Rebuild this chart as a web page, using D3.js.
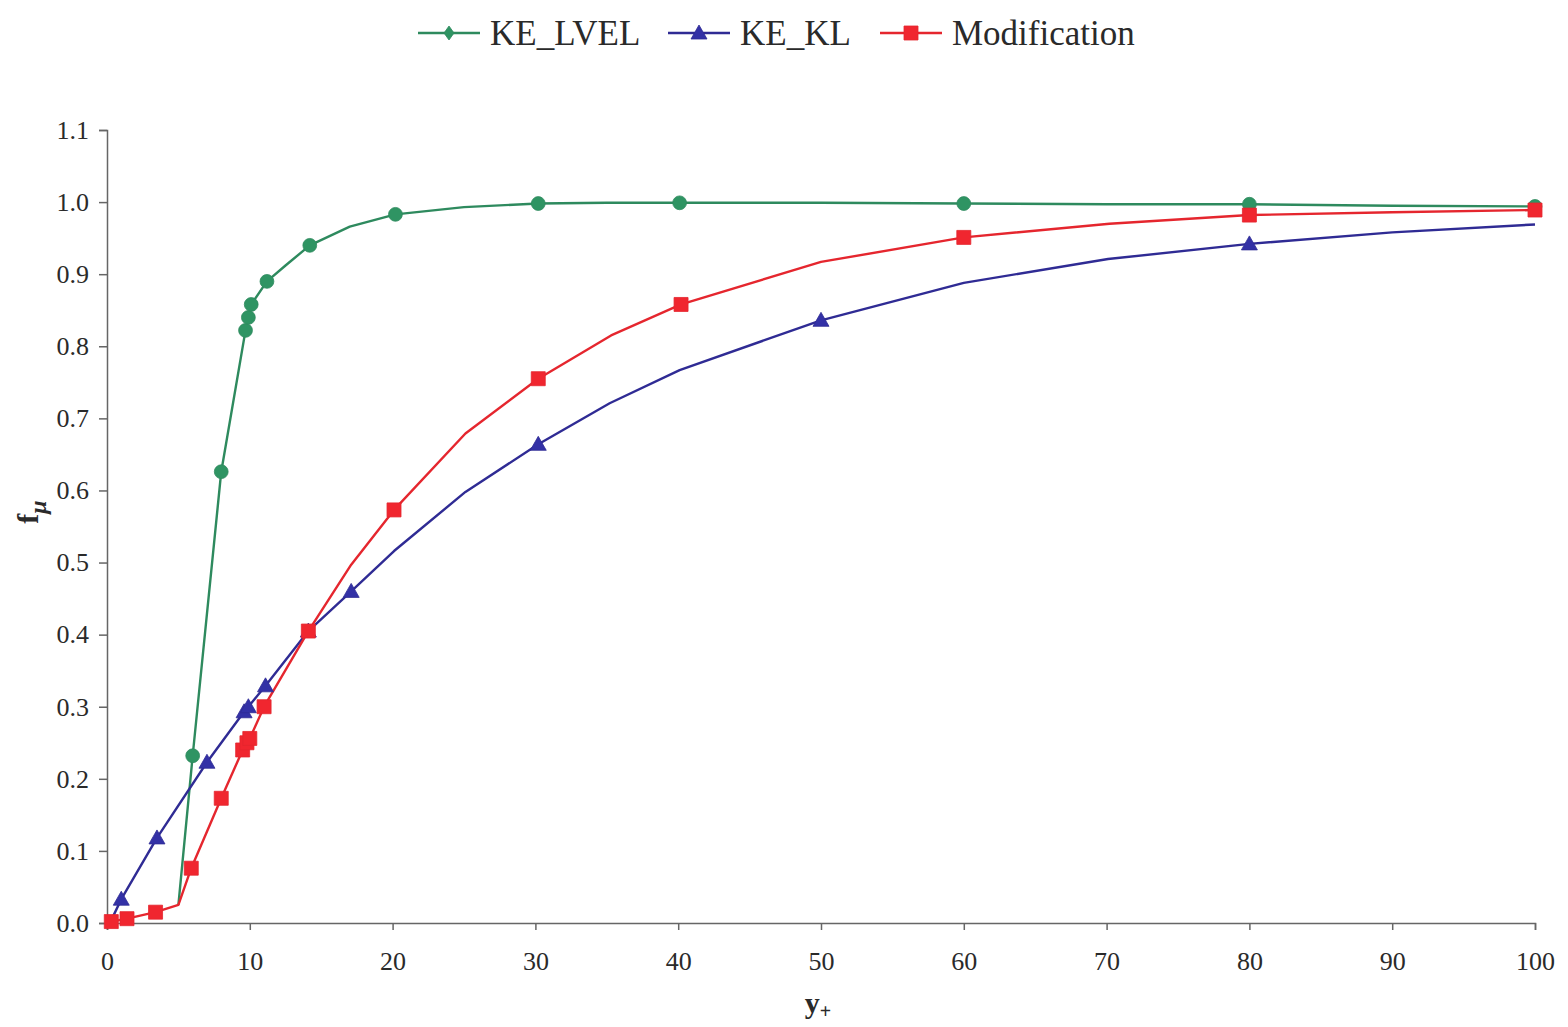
<!DOCTYPE html>
<html>
<head>
<meta charset="utf-8">
<script src="https://cdn.jsdelivr.net/npm/d3@7"></script>
<style>
  html, body { margin: 0; padding: 0; background: #fff; }
  svg { display: block; }
  text { font-family: "Liberation Serif", "Times New Roman", serif; fill: #2a2a2a; }
</style>
</head>
<body>
<svg id="chart" width="1568" height="1027"></svg>
<script>
// Axis ticks
const xTicks = [0, 10, 20, 30, 40, 50, 60, 70, 80, 90, 100];
const yTicks = [0, 0.1, 0.2, 0.3, 0.4, 0.5, 0.6, 0.7, 0.8, 0.9, 1.0, 1.1];

// Series names
const seriesNames = ["KE_LVEL", "KE_KL", "Modification"];

// Each point: [y+, f_mu, hasMarker]
const keLvel = [
  [5.0, 0.025, 0], [6.0, 0.232, 1], [8.0, 0.626, 1], [9.7, 0.822, 1],
  [9.9, 0.840, 1], [10.1, 0.858, 1], [11.2, 0.890, 1], [12.5, 0.912, 0],
  [14.2, 0.940, 1], [17.0, 0.966, 0], [20.2, 0.983, 1], [25.0, 0.993, 0],
  [30.2, 0.998, 1], [35.0, 0.999, 0], [40.1, 0.999, 1], [50.0, 0.999, 0],
  [60.0, 0.998, 1], [70.0, 0.997, 0], [80.0, 0.997, 1], [90.0, 0.995, 0],
  [100.0, 0.994, 1]
];

const keKl = [
  [0.3, 0.004, 0], [1.0, 0.033, 1], [3.5, 0.118, 1], [7.0, 0.223, 1],
  [9.6, 0.293, 1], [9.9, 0.300, 1], [11.1, 0.329, 1], [14.1, 0.405, 1],
  [17.1, 0.460, 1], [20.1, 0.516, 0], [25.1, 0.598, 0], [30.2, 0.664, 1],
  [35.2, 0.721, 0], [40.1, 0.767, 0], [50.0, 0.836, 1], [60.0, 0.888, 0],
  [70.1, 0.921, 0], [80.0, 0.942, 1], [90.0, 0.958, 0], [100.0, 0.969, 0]
];

const modification = [
  [0.3, 0.002, 1], [1.4, 0.006, 1], [3.4, 0.015, 1], [5.0, 0.025, 0],
  [5.9, 0.076, 1], [8.0, 0.173, 1], [9.5, 0.240, 1], [9.8, 0.250, 1],
  [10.0, 0.256, 1], [11.0, 0.300, 1], [14.1, 0.405, 1], [17.1, 0.497, 0],
  [20.1, 0.573, 1], [25.1, 0.679, 0], [30.2, 0.755, 1], [35.3, 0.815, 0],
  [40.2, 0.858, 1], [50.0, 0.917, 0], [60.0, 0.951, 1], [70.2, 0.970, 0],
  [80.0, 0.982, 1], [90.0, 0.986, 0], [100.0, 0.989, 1]
];

const svg = d3.select("#chart");

const x = d3.scaleLinear().domain([0, 100]).range([107, 1535]);
const y = d3.scaleLinear().domain([0, 1.1]).range([923, 130]);

const axisColor = "#666";

// Y axis
const yAxis = svg.append("g")
  .attr("transform", `translate(${x(0)},0)`)
  .attr("font-family", "Liberation Serif, serif")
  .call(d3.axisLeft(y).tickValues(yTicks).tickFormat(d3.format(".1f")).tickSizeOuter(0).tickSize(8).tickPadding(10));
yAxis.select(".domain").attr("stroke", axisColor).attr("stroke-width", 1.5);
yAxis.selectAll(".tick line").attr("stroke", axisColor).attr("stroke-width", 1.5);
yAxis.selectAll(".tick text").attr("font-size", 26).attr("fill", "#2a2a2a")
  .attr("font-family", "Liberation Serif, serif");

// X axis
const xAxis = svg.append("g")
  .attr("transform", `translate(0,${y(0)})`)
  .attr("font-family", "Liberation Serif, serif")
  .call(d3.axisBottom(x).tickValues(xTicks).tickFormat(d3.format("d")).tickSizeOuter(0).tickSize(7).tickPadding(22));
xAxis.select(".domain").attr("stroke", axisColor).attr("stroke-width", 1.5);
xAxis.selectAll(".tick line").attr("stroke", axisColor).attr("stroke-width", 1.5);
xAxis.selectAll(".tick text").attr("font-size", 26).attr("fill", "#2a2a2a")
  .attr("font-family", "Liberation Serif, serif");

// Series styling
const series = [
  { name: seriesNames[0], data: keLvel, line: "#2e8a5e", fill: "#2f9463", marker: "circle" },
  { name: seriesNames[1], data: keKl, line: "#2f2b94", fill: "#3331a6", marker: "triangle" },
  { name: seriesNames[2], data: modification, line: "#e5262e", fill: "#f0262f", marker: "square" }
];

const line = d3.line().x(d => x(d[0])).y(d => y(d[1])).curve(d3.curveLinear);

function markerPath(kind) {
  if (kind === "circle") {
    return d3.symbol().type(d3.symbolCircle).size(150)();
  } else if (kind === "triangle") {
    return "M0,-8L8,6L-8,6Z";
  } else if (kind === "square") {
    return "M-7,-7H7V7H-7Z";
  }
  return "M-5,0L0,-7L5,0L0,7Z";
}

series.forEach(s => {
  svg.append("g").attr("class", "series")
    .append("path")
    .datum(s.data)
    .attr("fill", "none")
    .attr("stroke", s.line)
    .attr("stroke-width", 2.4)
    .attr("stroke-linejoin", "round")
    .attr("d", line);
});

series.forEach(s => {
  svg.append("g").attr("class", "markers")
    .selectAll("path")
    .data(s.data.filter(d => d[2] === 1))
    .join("path")
    .attr("transform", d => `translate(${x(d[0])},${y(d[1])})`)
    .attr("d", markerPath(s.marker))
    .attr("fill", s.fill)
    .attr("stroke", s.line)
    .attr("stroke-width", 0.8);
});

// Legend
const legendItems = [
  { s: series[0], x0: 418, marker: "diamond" },
  { s: series[1], x0: 668, marker: "triangle" },
  { s: series[2], x0: 880, marker: "square" }
];
const legend = svg.append("g").attr("class", "legend");
legendItems.forEach(it => {
  const g = legend.append("g").attr("transform", `translate(${it.x0},33)`);
  g.append("line").attr("x1", 0).attr("x2", 62).attr("y1", 0).attr("y2", 0)
    .attr("stroke", it.s.line).attr("stroke-width", 2.4);
  g.append("path").attr("transform", "translate(31,0)")
    .attr("d", markerPath(it.marker))
    .attr("fill", it.s.fill).attr("stroke", it.s.line).attr("stroke-width", 0.8);
  g.append("text").attr("x", 72).attr("y", 12)
    .attr("font-size", 35).text(it.s.name);
});

// Axis titles
const yTitle = svg.append("text")
  .attr("transform", "translate(38,512) rotate(-90)")
  .attr("text-anchor", "middle")
  .attr("font-size", 30).attr("font-weight", "bold");
yTitle.append("tspan").text("f");
yTitle.append("tspan").attr("dy", 8).attr("font-size", 24).attr("font-style", "italic").attr("font-weight", "bold").text("μ");

const xTitle = svg.append("text")
  .attr("x", 818).attr("y", 1013)
  .attr("text-anchor", "middle")
  .attr("font-size", 30).attr("font-weight", "bold");
xTitle.append("tspan").text("y");
xTitle.append("tspan").attr("dy", 5).attr("font-size", 20).text("+");
</script>
</body>
</html>
